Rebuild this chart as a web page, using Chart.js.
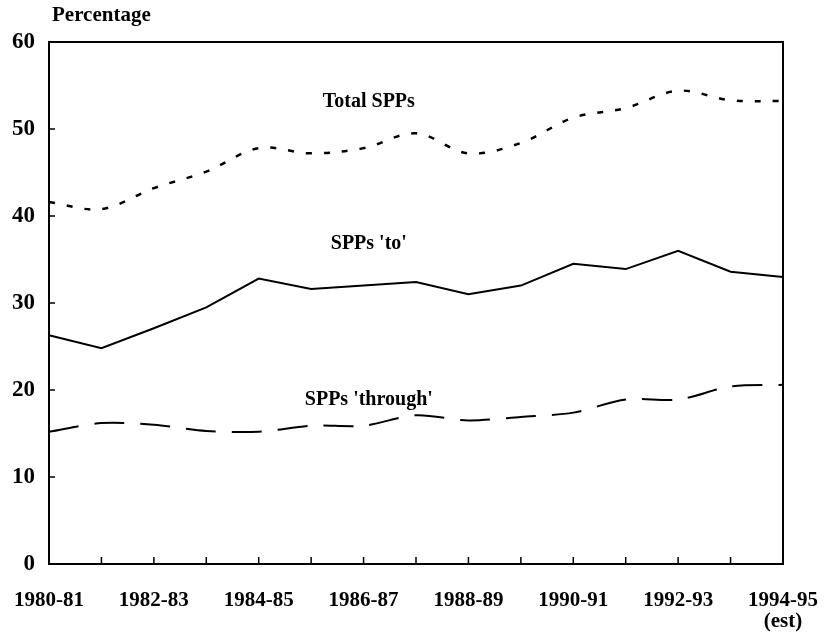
<!DOCTYPE html>
<html>
<head>
<meta charset="utf-8">
<script src="https://cdn.jsdelivr.net/npm/chart.js@4"></script>
<style>
  body { margin: 0; background: #fff; }
  #wrap { width: 825px; height: 632px; }
</style>
</head>
<body>
<div id="wrap"><canvas id="sppChart"></canvas></div>
<script>
// data
const years = ['1980-81', '1981-82', '1982-83', '1983-84', '1984-85', '1985-86', '1986-87',
  '1987-88', '1988-89', '1989-90', '1990-91', '1991-92', '1992-93', '1993-94', ['1994-95', '(est)']];
const totalSPPs = [41.6, 40.8, 43.2, 45.1, 47.8, 47.2, 47.8, 49.5, 47.2, 48.4, 51.3, 52.4, 54.4, 53.3, 53.2];
const sppsTo = [26.3, 24.8, 27.1, 29.5, 32.8, 31.6, 32.0, 32.4, 31.0, 32.0, 34.5, 33.9, 36.0, 33.6, 33.0];
const sppsThrough = [15.2, 16.2, 16.0, 15.3, 15.2, 15.9, 15.9, 17.1, 16.5, 16.9, 17.4, 18.9, 18.9, 20.4, 20.6];
const yTicks = [0, 10, 20, 30, 40, 50, 60];

// line labels: [text, category index, value]
const seriesLabels = [
  ['Total SPPs', 6.1, 53.1],
  ["SPPs 'to'", 6.1, 36.8],
  ["SPPs 'through'", 6.1, 18.9]
];

const serif = "'Liberation Serif', 'Times New Roman', serif";

// draws the frame, inward ticks and the text labels
const decor = {
  id: 'decor',
  afterDatasetsDraw(chart) {
    const { ctx, chartArea: a, scales: { x, y } } = chart;
    ctx.save();
    ctx.strokeStyle = '#000';
    ctx.lineWidth = 2;
    ctx.strokeRect(a.left, a.top, a.right - a.left, a.bottom - a.top);
    ctx.lineWidth = 1.5;
    ctx.beginPath();
    yTicks.forEach(v => {
      const py = y.getPixelForValue(v);
      ctx.moveTo(a.left, py); ctx.lineTo(a.left + 6, py);
    });
    years.forEach((_, i) => {
      if (i === 0 || i === years.length - 1) return;
      const px = x.getPixelForValue(i);
      ctx.moveTo(px, a.bottom); ctx.lineTo(px, a.bottom - 7);
    });
    ctx.stroke();

    ctx.fillStyle = '#000';
    ctx.font = 'bold 20px ' + serif;
    ctx.textAlign = 'center';
    ctx.textBaseline = 'middle';
    seriesLabels.forEach(([t, i, v]) => {
      ctx.fillText(t, x.getPixelForValue(i), y.getPixelForValue(v));
    });
    ctx.font = 'bold 21px ' + serif;
    ctx.textAlign = 'left';
    ctx.fillText('Percentage', 52, 16);
    ctx.restore();
  }
};

new Chart(document.getElementById('sppChart'), {
  type: 'line',
  data: {
    labels: years,
    datasets: [
      {
        label: 'Total SPPs',
        data: totalSPPs,
        borderColor: '#000',
        borderWidth: 2.5,
        borderDash: [6, 12],
        tension: 0.35
      },
      {
        label: "SPPs 'to'",
        data: sppsTo,
        borderColor: '#000',
        borderWidth: 2,
        tension: 0
      },
      {
        label: "SPPs 'through'",
        data: sppsThrough,
        borderColor: '#000',
        borderWidth: 2,
        borderDash: [30, 16],
        tension: 0.3
      }
    ]
  },
  plugins: [decor],
  options: {
    responsive: true,
    maintainAspectRatio: false,
    animation: false,
    layout: { padding: { top: 42, right: 42, left: 0, bottom: 0 } },
    elements: { point: { radius: 0 } },
    plugins: {
      legend: { display: false },
      tooltip: { enabled: false }
    },
    scales: {
      x: {
        offset: false,
        // tick marks are hidden; tickLength only pushes the labels down
        grid: { display: false, drawTicks: true, tickLength: 26 },
        border: { display: false },
        afterFit(s) { s.height = 68; },
        ticks: {
          autoSkip: false,
          maxRotation: 0,
          padding: 0,
          color: '#000',
          font: { family: serif, size: 21, weight: 'bold', lineHeight: 1.0 },
          callback(v, i) { return i % 2 === 0 ? years[i] : ''; }
        }
      },
      y: {
        min: 0,
        max: 60,
        grid: { display: false, drawTicks: false },
        border: { display: false },
        afterFit(s) { s.width = 49; },
        afterBuildTicks(s) { s.ticks = yTicks.map(v => ({ value: v })); },
        ticks: {
          padding: 14,
          color: '#000',
          font: { family: serif, size: 23, weight: 'bold' }
        }
      }
    }
  }
});
</script>
</body>
</html>
